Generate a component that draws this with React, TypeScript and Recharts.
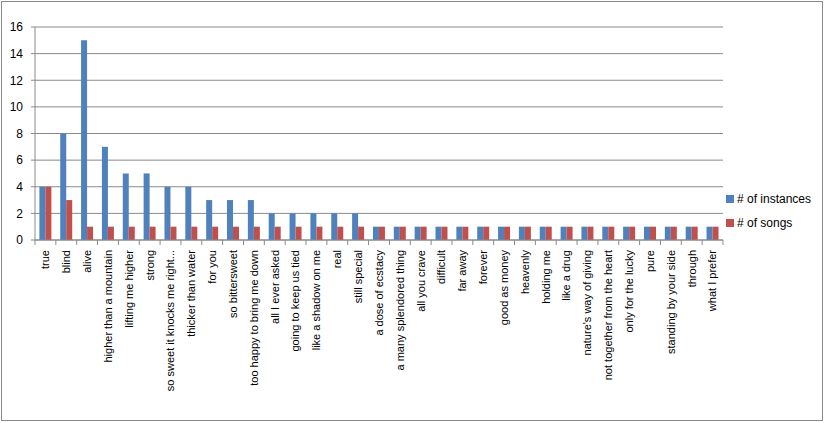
import React from "react";
import { BarChart, Bar, XAxis, YAxis, CartesianGrid } from "recharts";

const phrases = [
  "true",
  "blind",
  "alive",
  "higher than a mountain",
  "lifting me higher",
  "strong",
  "so sweet it knocks me right...",
  "thicker than water",
  "for you",
  "so bittersweet",
  "too happy to bring me down",
  "all I ever asked",
  "going to keep us tied",
  "like a shadow on me",
  "real",
  "still special",
  "a dose of ecstacy",
  "a many splendored thing",
  "all you crave",
  "difficult",
  "far away",
  "forever",
  "good as money",
  "heavenly",
  "holding me",
  "like a drug",
  "nature's way of giving",
  "not together from the heart",
  "only for the lucky",
  "pure",
  "standing by your side",
  "through",
  "what I prefer",
];

const instances = [
  4, 8, 15, 7, 5, 5, 4, 4, 3, 3, 3, 2, 2, 2, 2, 2, 1, 1, 1, 1, 1, 1, 1, 1, 1, 1,
  1, 1, 1, 1, 1, 1, 1,
];
const songs = [
  4, 3, 1, 1, 1, 1, 1, 1, 1, 1, 1, 1, 1, 1, 1, 1, 1, 1, 1, 1, 1, 1, 1, 1, 1, 1,
  1, 1, 1, 1, 1, 1, 1,
];
const yTicks = [0, 2, 4, 6, 8, 10, 12, 14, 16];

const data = phrases.map((name, i) => ({
  name,
  instances: instances[i],
  songs: songs[i],
}));

const BLUE = "#4F81BD";
const RED = "#C0504D";
const GRID = "#8a8a8a";
const FONT = "'Liberation Sans', Arial, sans-serif";

const W = 825;
const H = 423;
const LEFT = 35;
const RIGHT = 102;
const STEP = (W - LEFT - RIGHT) / phrases.length;

const CategoryTick = (props: any) => {
  const { x, y, payload, index } = props;
  const last = index === phrases.length - 1;
  return (
    <g transform={`translate(${x},${y})`}>
      <line x1={-STEP / 2} x2={-STEP / 2} y1={-5} y2={0} stroke={GRID} />
      {last && (
        <line x1={STEP / 2} x2={STEP / 2} y1={-5} y2={0} stroke={GRID} />
      )}
      <text
        transform="rotate(-90)"
        x={-5}
        y={0}
        dy="0.35em"
        textAnchor="end"
        fontSize={11}
        fontFamily={FONT}
        fill="#000"
      >
        {payload.value}
      </text>
    </g>
  );
};

const LegendBox = () => (
  <div
    style={{
      position: "absolute",
      left: 726,
      top: 191,
      fontFamily: FONT,
      fontSize: 12,
      color: "#000",
      lineHeight: "16px",
    }}
  >
    <div style={{ display: "flex", alignItems: "center", height: 16 }}>
      <span
        style={{ width: 8, height: 8, background: BLUE, marginRight: 3 }}
      />
      # of instances
    </div>
    <div
      style={{ display: "flex", alignItems: "center", height: 16, marginTop: 8 }}
    >
      <span style={{ width: 8, height: 8, background: RED, marginRight: 3 }} />
      # of songs
    </div>
  </div>
);

export default function App() {
  return (
    <div
      style={{
        position: "absolute",
        left: 0,
        top: 0,
        width: W,
        height: H,
        background: "#fff",
      }}
    >
      <div
        style={{
          position: "absolute",
          left: 1,
          top: 1,
          width: 820,
          height: 418,
          border: "1px solid #8a8a8a",
        }}
      />
      <BarChart
        width={W}
        height={H}
        data={data}
        margin={{ top: 27, right: RIGHT, bottom: 3, left: 0 }}
        barCategoryGap="21%"
        barGap={0}
      >
        <CartesianGrid vertical={false} stroke={GRID} />
        <XAxis
          dataKey="name"
          interval={0}
          height={180}
          tickSize={5}
          tickMargin={0}
          tickLine={false}
          axisLine={{ stroke: GRID }}
          tick={<CategoryTick />}
        />
        <YAxis
          width={35}
          domain={[0, 16]}
          ticks={yTicks}
          interval={0}
          tickSize={4}
          tickMargin={8}
          axisLine={{ stroke: GRID }}
          tickLine={{ stroke: GRID }}
          tick={{ fontSize: 12, fontFamily: FONT, fill: "#000" }}
        />
        <Bar dataKey="instances" fill={BLUE} isAnimationActive={false} />
        <Bar dataKey="songs" fill={RED} isAnimationActive={false} />
      </BarChart>
      <LegendBox />
    </div>
  );
}
